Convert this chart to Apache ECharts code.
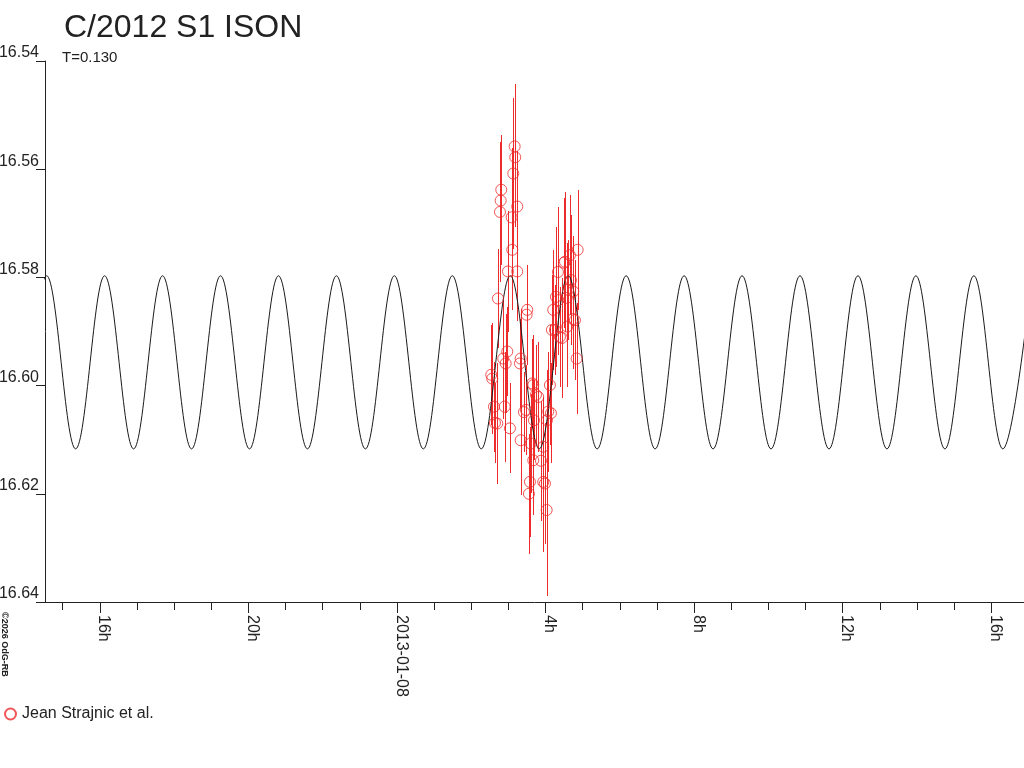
<!DOCTYPE html>
<html>
<head>
<meta charset="utf-8">
<script src="https://cdn.jsdelivr.net/npm/echarts@6/dist/echarts.min.js"></script>
<style>
html,body{margin:0;padding:0;background:#fff;}
#chart{width:1024px;height:768px;}
</style>
</head>
<body>
<div id="chart"></div>
<script>
// Time axis: hours since 2013-01-08 00:00 UT
const xMin = -9.475;
const xMax = 16.88;
const hourTicks = [-9,-8,-7,-6,-5,-4,-3,-2,-1,0,1,2,3,4,5,6,7,8,9,10,11,12,13,14,15,16];
const majorTicks = [-8,-4,0,4,8,12,16];
const magTicks = [16.54,16.56,16.58,16.60,16.62,16.64];

// Model light curve (T=0.130 d), extremes
const modelTime = [-10.21,-9.43,-8.65,-7.87,-7.09,-6.31,-5.53,-4.75,-3.97,-3.19,-2.41,-1.63,-0.85,-0.07,0.71,1.49,2.27,3.05,3.83,4.61,5.39,6.17,6.95,7.73,8.51,9.29,10.07,10.85,11.63,12.41,13.19,13.97,14.75,15.53,16.31,17.09];
const modelMag  = [16.6117,16.5797,16.6117,16.5797,16.6117,16.5797,16.6117,16.5797,16.6117,16.5797,16.6117,16.5797,16.6117,16.5797,16.6117,16.5797,16.6117,16.5797,16.6117,16.5797,16.6117,16.5797,16.6117,16.5797,16.6117,16.5797,16.6117,16.5797,16.6117,16.5797,16.6117,16.5797,16.6117,16.5797,16.6117,16.5797];

// Observations: Jean Strajnic et al.
const obsTime = [2.538,2.565,2.611,2.638,2.700,2.719,2.791,2.808,2.773,2.861,2.899,2.926,2.969,2.988,3.042,3.088,3.104,3.131,3.168,3.184,3.238,3.238,3.311,3.330,3.330,3.419,3.472,3.491,3.507,3.553,3.580,3.599,3.642,3.669,3.688,3.669,3.742,3.803,3.876,3.938,3.938,3.984,4.030,4.038,4.073,4.118,4.145,4.172,4.207,4.253,4.280,4.342,4.334,4.388,4.441,4.495,4.522,4.568,4.584,4.603,4.657,4.684,4.746,4.738,4.791,4.837,4.864];
const obsMag = [16.5980,16.5987,16.6039,16.6069,16.6070,16.5839,16.5658,16.5638,16.5679,16.5950,16.6039,16.5959,16.5937,16.5789,16.6079,16.5689,16.5749,16.5608,16.5558,16.5578,16.5669,16.5789,16.5959,16.5950,16.6101,16.6049,16.6045,16.5869,16.5860,16.6200,16.6178,16.6107,16.5996,16.5999,16.6064,16.6138,16.6017,16.6021,16.6139,16.6113,16.6178,16.6181,16.6230,16.6064,16.6048,16.5999,16.6051,16.5897,16.5860,16.5897,16.5836,16.5842,16.5790,16.5910,16.5912,16.5773,16.5771,16.5838,16.5891,16.5823,16.5759,16.5805,16.5826,16.5877,16.5879,16.5950,16.5749];
const obsErr = [0.0092,0.0102,0.0083,0.0074,0.0111,0.0092,0.0120,0.0102,0.0129,0.0111,0.0102,0.0092,0.0083,0.0111,0.0083,0.0129,0.0111,0.0139,0.0115,0.0129,0.0102,0.0092,0.0083,0.0092,0.0102,0.0074,0.0083,0.0092,0.0074,0.0111,0.0102,0.0092,0.0083,0.0092,0.0074,0.0102,0.0092,0.0102,0.0111,0.0092,0.0129,0.0111,0.0159,0.0092,0.0111,0.0111,0.0092,0.0102,0.0111,0.0083,0.0129,0.0102,0.0120,0.0092,0.0111,0.0120,0.0129,0.0102,0.0111,0.0092,0.0111,0.0120,0.0102,0.0092,0.0111,0.0102,0.0111];

const seriesName = 'Jean Strajnic et al.';
const RED = '#ee2c2c';
const AXIS = '#222';
const FONT = '"Liberation Sans", Arial, sans-serif';

const modelData = modelTime.map((t, i) => [t, modelMag[i]]);
const obsData = obsTime.map((t, i) => [t, obsMag[i], obsErr[i]]);

const chart = echarts.init(document.getElementById('chart'), null, {renderer: 'canvas'});
chart.setOption({
  animation: false,
  backgroundColor: '#fff',
  textStyle: {fontFamily: FONT},
  title: [
    {text: 'C/2012 S1 ISON', left: 64, top: 12, padding: 0,
     textStyle: {fontFamily: FONT, fontSize: 32, fontWeight: 'normal', color: '#222'}},
    {text: 'T=0.130', left: 62, top: 50, padding: 0,
     textStyle: {fontFamily: FONT, fontSize: 15, fontWeight: 'normal', color: '#222'}}
  ],
  legend: {
    data: [seriesName],
    left: 4, top: 706, padding: 0,
    itemWidth: 11, itemHeight: 11, itemGap: 10,
    textStyle: {fontFamily: FONT, fontSize: 16, color: '#222', padding: [0,0,0,1]}
  },
  grid: {left: 45, right: 0, top: 61, bottom: 166, containLabel: false, outerBoundsMode: 'none'},
  xAxis: [
    {
      type: 'value', min: xMin, max: xMax, position: 'bottom',
      axisLine: {show: true, onZero: false, lineStyle: {color: AXIS, width: 1}},
      axisTick: {show: true, customValues: hourTicks, length: 8, lineStyle: {color: AXIS}},
      axisLabel: {show: false},
      splitLine: {show: false}
    },
    {
      type: 'value', min: xMin, max: xMax, position: 'bottom',
      axisLine: {show: false, onZero: false},
      axisTick: {show: true, customValues: majorTicks, length: 11, lineStyle: {color: AXIS}},
      axisLabel: {
        show: true, customValues: majorTicks, rotate: -90, margin: 13,
        verticalAlign: 'bottom', lineHeight: 8,
        fontFamily: FONT, fontSize: 16, color: '#222',
        formatter: function (v) {
          if (Math.abs(v) < 1e-9) return '2013-01-08';
          return (((Math.round(v) % 24) + 24) % 24) + 'h';
        }
      },
      splitLine: {show: false}
    }
  ],
  yAxis: {
    type: 'value', inverse: true, min: 16.54, max: 16.64, interval: 0.02,
    axisLine: {show: true, onZero: false, lineStyle: {color: AXIS, width: 1}},
    axisTick: {show: true, length: 9, lineStyle: {color: AXIS}},
    axisLabel: {
      margin: 6, verticalAlign: 'bottom', fontFamily: FONT, fontSize: 16, color: '#222',
      formatter: v => v.toFixed(2)
    },
    splitLine: {show: false}
  },
  graphic: [
    {type: 'text', x: 0, y: 612, rotation: -Math.PI / 2,
     style: {text: '\u00a92026 OdG-RB', font: 'bold 9px ' + FONT, fill: '#222',
             textAlign: 'left', textVerticalAlign: 'bottom'}}
  ],
  series: [
    {
      type: 'custom', name: 'errbars', xAxisIndex: 0, z: 2, clip: true,
      encode: {x: 0, y: 1},
      data: obsData,
      renderItem: function (params, api) {
        const t = api.value(0), m = api.value(1), e = api.value(2);
        const p1 = api.coord([t, m - e]);
        const p2 = api.coord([t, m + e]);
        const x = Math.round(p1[0]) + 0.5;
        return {type: 'line', shape: {x1: x, y1: Math.round(p1[1]), x2: x, y2: Math.round(p2[1])},
                style: {stroke: RED, lineWidth: 1}};
      },
      silent: true
    },
    {
      type: 'line', name: 'model', xAxisIndex: 0, z: 3,
      data: modelData, smooth: 0.36, showSymbol: false, clip: true,
      lineStyle: {color: '#1a1a1a', width: 1}, silent: true
    },
    {
      type: 'scatter', name: seriesName, xAxisIndex: 0, z: 4,
      data: obsData.map(d => [d[0], d[1]]),
      symbol: 'circle', symbolSize: 11,
      itemStyle: {color: 'rgba(255,255,255,0)', borderColor: RED, borderWidth: 1}
    }
  ]
});
</script>
</body>
</html>
